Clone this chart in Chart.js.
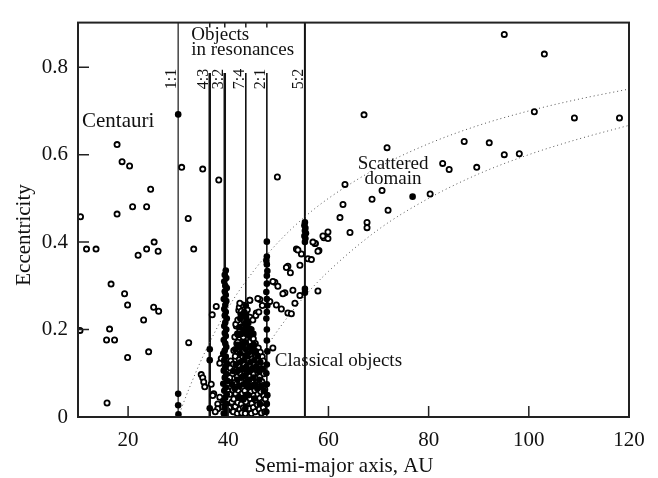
<!DOCTYPE html>
<html>
<head>
<meta charset="utf-8">
<script src="https://cdn.jsdelivr.net/npm/chart.js@4.4.0/dist/chart.umd.min.js"></script>
<style>
  html, body { margin: 0; padding: 0; background: #fff; }
  #chart { display: block; }
</style>
</head>
<body>
<canvas id="chart" width="658" height="478"></canvas>
<script>
// values: [semi-major axis (AU), eccentricity]
var centaurs = [
    [10.5, 0.458], [10.4, 0.198], [11.7, 0.384], [13.6, 0.384], [15.7, 0.176], [15.8, 0.032],
    [16.3, 0.201], [16.6, 0.304], [17.3, 0.176], [17.8, 0.623], [17.8, 0.464], [18.8, 0.584],
    [19.3, 0.282], [19.9, 0.256], [19.9, 0.136], [20.3, 0.574], [20.9, 0.481], [22.0, 0.370],
    [23.1, 0.222], [23.7, 0.481], [23.7, 0.384], [24.1, 0.149], [24.5, 0.521], [25.1, 0.251],
    [25.2, 0.400], [26.0, 0.379], [26.1, 0.242]
];

var innerObjects = [
    [30.7, 0.571], [32.0, 0.454], [32.1, 0.170], [33.1, 0.384], [34.9, 0.567], [38.1, 0.542],
    [34.6, 0.097], [34.9, 0.090], [35.1, 0.080], [35.3, 0.069], [36.6, 0.075], [37.1, 0.053],
    [37.9, 0.030], [38.3, 0.045], [36.9, 0.049], [37.9, 0.019], [38.9, 0.023], [37.6, 0.253],
    [36.8, 0.234], [38.6, 0.134], [38.3, 0.123], [37.4, 0.012]
];

var classical = [
    [40.2, 0.021], [40.3, 0.052], [40.1, 0.083], [40.4, 0.112], [40.7, 0.034], [40.6, 0.068], [40.8, 0.097], [40.5, 0.128],
    [41.0, 0.012], [41.1, 0.041], [40.9, 0.062], [41.2, 0.088], [41.0, 0.121], [41.1, 0.152], [41.3, 0.183], [41.6, 0.208],
    [41.4, 0.024], [41.5, 0.053], [41.3, 0.079], [41.6, 0.108], [41.4, 0.139], [41.7, 0.168], [41.5, 0.212],
    [41.8, 0.008], [41.9, 0.033], [42.0, 0.061], [41.8, 0.092], [42.1, 0.118], [41.9, 0.149], [42.0, 0.188], [41.9, 0.222], [42.1, 0.244],
    [42.3, 0.018], [42.2, 0.044], [42.4, 0.072], [42.3, 0.101], [42.2, 0.131], [42.4, 0.162], [42.3, 0.198], [42.5, 0.236], [42.2, 0.251],
    [42.7, 0.009], [42.6, 0.029], [42.8, 0.054], [42.6, 0.081], [42.7, 0.109], [42.9, 0.138], [42.7, 0.171], [42.8, 0.207], [42.6, 0.242],
    [43.0, 0.021], [43.1, 0.043], [42.9, 0.066], [43.1, 0.094], [43.0, 0.122], [43.2, 0.151], [43.0, 0.183], [43.1, 0.221], [42.9, 0.256],
    [43.8, 0.011], [43.9, 0.032], [43.7, 0.055], [43.9, 0.078], [43.8, 0.102], [44.0, 0.129], [43.8, 0.162], [43.9, 0.193], [43.7, 0.231],
    [44.2, 0.019], [44.3, 0.042], [44.1, 0.071], [44.3, 0.093], [44.2, 0.118], [44.4, 0.143], [44.2, 0.171], [44.3, 0.201], [44.3, 0.267],
    [44.6, 0.008], [44.7, 0.031], [44.5, 0.058], [44.7, 0.082], [44.6, 0.108], [44.8, 0.133], [44.6, 0.162], [44.7, 0.188],
    [45.0, 0.022], [45.1, 0.049], [44.9, 0.072], [45.1, 0.098], [45.0, 0.124], [45.2, 0.151], [45.0, 0.179],
    [45.4, 0.012], [45.5, 0.038], [45.3, 0.061], [45.5, 0.089], [45.4, 0.112], [45.6, 0.139], [45.4, 0.168],
    [45.8, 0.028], [45.9, 0.052], [45.7, 0.079], [45.9, 0.101], [45.8, 0.128], [46.0, 0.158], [45.9, 0.271],
    [46.2, 0.018], [46.3, 0.043], [46.1, 0.068], [46.3, 0.092], [46.2, 0.121], [46.4, 0.148],
    [46.6, 0.009], [46.7, 0.033], [46.5, 0.058], [46.7, 0.081], [46.6, 0.109], [46.8, 0.138],
    [47.0, 0.021], [47.1, 0.048], [46.9, 0.072], [47.1, 0.099], [47.0, 0.128],
    [47.3, 0.012], [47.4, 0.041], [47.3, 0.063], [43.4, 0.008], [43.5, 0.035], [43.3, 0.060],
    [40.3, 0.090], [42.3, 0.260], [43.8, 0.245], [44.3, 0.228], [44.9, 0.222], [45.5, 0.232],
    [46.1, 0.240], [46.8, 0.255], [44.3, 0.267], [41.9, 0.171]
];

// the packed core of the classical belt, where the marks merge into black
var classicalCore = [
    [40.8, 0.075], [41.3, 0.065], [41.8, 0.085], [42.2, 0.070], [42.6, 0.090], [43.0, 0.075], [43.4, 0.095], [43.8, 0.070],
    [44.2, 0.085], [44.6, 0.070], [45.0, 0.090], [45.4, 0.075], [45.8, 0.065], [46.2, 0.085], [46.6, 0.070], [47.1, 0.060],
    [41.0, 0.105], [41.5, 0.120], [41.9, 0.105], [42.4, 0.125], [42.8, 0.110], [43.2, 0.130], [43.6, 0.115], [44.0, 0.105],
    [44.4, 0.125], [44.8, 0.110], [45.2, 0.130], [45.6, 0.115], [46.0, 0.105], [46.4, 0.125], [46.9, 0.110],
    [41.4, 0.155], [41.9, 0.165], [42.3, 0.145], [42.7, 0.160], [43.1, 0.170], [43.5, 0.155], [43.9, 0.145], [44.3, 0.160],
    [44.7, 0.150], [45.1, 0.165], [45.5, 0.150], [45.9, 0.140],
    [41.8, 0.190], [42.2, 0.205], [42.6, 0.190], [43.0, 0.200], [43.4, 0.215], [43.8, 0.200], [44.2, 0.185], [44.6, 0.200],
    [45.0, 0.190], [42.4, 0.225], [42.8, 0.235], [43.2, 0.240], [43.6, 0.225], [44.0, 0.215],
    [42.0, 0.045], [43.0, 0.040], [44.0, 0.050], [45.2, 0.042], [46.3, 0.030]
];

var scattered = [
    [95.1, 0.875], [103.1, 0.830], [67.1, 0.691], [101.1, 0.698], [109.1, 0.684], [118.1, 0.684],
    [71.7, 0.616], [87.1, 0.630], [92.1, 0.627], [95.1, 0.600], [98.1, 0.602], [82.8, 0.580],
    [84.1, 0.566], [89.6, 0.571], [63.3, 0.532], [70.7, 0.518], [68.7, 0.498], [62.9, 0.486],
    [80.3, 0.510], [71.9, 0.473], [62.3, 0.456], [67.7, 0.445], [67.7, 0.433], [64.3, 0.422],
    [49.8, 0.549], [53.6, 0.384], [57.4, 0.397], [58.1, 0.381], [59.1, 0.410], [59.9, 0.423],
    [58.9, 0.414], [59.9, 0.408], [57.3, 0.397], [57.9, 0.379], [54.6, 0.373], [55.9, 0.362],
    [54.3, 0.347], [51.9, 0.345], [52.4, 0.330], [49.3, 0.308], [49.9, 0.299], [51.3, 0.284],
    [52.9, 0.290], [54.3, 0.278], [57.9, 0.288], [53.3, 0.260], [46.3, 0.269], [48.3, 0.264],
    [49.6, 0.256], [50.6, 0.247], [51.9, 0.238], [52.6, 0.236], [45.6, 0.238], [48.9, 0.158],
    [53.9, 0.382], [56.6, 0.360], [56.9, 0.400], [51.6, 0.342], [50.9, 0.282], [48.9, 0.310]
];

var resonant = [
    [30.0, 0.692], [30.0, 0.053], [30.0, 0.027], [30.05, 0.006],
    [36.3, 0.155], [36.3, 0.130], [36.3, 0.020],
    [39.5, 0.335], [39.3, 0.325], [39.6, 0.318], [39.2, 0.310], [39.4, 0.300], [39.7, 0.295],
    [39.3, 0.287], [39.5, 0.279], [39.1, 0.270], [39.6, 0.265], [39.4, 0.256], [39.2, 0.247],
    [39.5, 0.240], [39.3, 0.232], [39.7, 0.225], [39.4, 0.216], [39.2, 0.208], [39.6, 0.200],
    [39.3, 0.192], [39.5, 0.185], [39.1, 0.176], [39.4, 0.168], [39.6, 0.160], [39.3, 0.152],
    [39.0, 0.145], [39.5, 0.138], [39.2, 0.130], [39.7, 0.122], [39.4, 0.114], [39.1, 0.106],
    [39.6, 0.099], [39.3, 0.090], [39.8, 0.083], [39.0, 0.076], [39.5, 0.068], [39.2, 0.060],
    [39.7, 0.052], [39.4, 0.044], [39.0, 0.037], [39.6, 0.030], [39.3, 0.022], [39.8, 0.015],
    [39.1, 0.008], [39.5, 0.003],
    [43.5, 0.255], [43.5, 0.230], [43.4, 0.210], [43.6, 0.190], [43.5, 0.170], [43.4, 0.140],
    [43.5, 0.110], [43.6, 0.080], [43.5, 0.050], [43.4, 0.020],
    [47.7, 0.401], [47.7, 0.367], [47.6, 0.358], [47.7, 0.349], [47.8, 0.334], [47.7, 0.323],
    [47.7, 0.305], [47.6, 0.286], [47.7, 0.270], [47.8, 0.255], [47.7, 0.240], [47.6, 0.225],
    [47.7, 0.200], [47.7, 0.175], [47.8, 0.150], [47.7, 0.120], [47.6, 0.100], [47.7, 0.075],
    [47.8, 0.050], [47.7, 0.030], [47.6, 0.012],
    [55.3, 0.445], [55.2, 0.438], [55.4, 0.432], [55.3, 0.426], [55.5, 0.420], [55.2, 0.414],
    [55.4, 0.408], [55.3, 0.400], [55.3, 0.293], [55.3, 0.284],
    [76.8, 0.504]
];

// edges of the scattered domain (dotted curves)
var innerEdge = [[30, 0], [32, 0.06], [35, 0.14], [40, 0.25], [45, 0.333], [50, 0.40], [55, 0.455],
    [60, 0.50], [70, 0.571], [80, 0.625], [90, 0.667], [100, 0.70], [110, 0.727], [120, 0.75]];
var outerEdge = [[46.5, 0.14], [50, 0.20], [55, 0.273], [60, 0.333], [70, 0.429], [80, 0.50],
    [90, 0.556], [100, 0.60], [110, 0.636], [120, 0.667]];

// mean-motion resonances with Neptune
var resLabels = ['1:1', '4:3', '3:2', '7:4', '2:1', '5:2'];
var resA = [30.0, 36.3, 39.3, 43.5, 47.7, 55.3];
var resTop = [0.902, 0.787, 0.787, 0.787, 0.787, 0.902];
var resLineWidth = [1.5, 2.5, 2.5, 1.6, 1.6, 2];

var xTicks = [20, 40, 60, 80, 100, 120];
var yTicks = [0, 0.2, 0.4, 0.6, 0.8];

var serif = 'Liberation Serif';

function toPoints(list) {
    return list.map(function(p) { return { x: p[0], y: p[1] }; });
}

var openStyle = {
    pointRadius: 2.6,
    pointBorderWidth: 1.8,
    pointBackgroundColor: '#fff',
    pointBorderColor: '#000',
    showLine: false,
    order: 0
};

var filledStyle = {
    pointRadius: 3.3,
    pointBorderWidth: 0,
    pointBackgroundColor: '#000',
    showLine: false,
    order: 0
};

// first dataset in the list is painted last (on top)
var datasets = [];
datasets.push(Object.assign({ data: toPoints(resonant) }, filledStyle));
datasets.push(Object.assign({ data: toPoints(classicalCore) }, filledStyle));
[centaurs, innerObjects, classical, scattered].forEach(function(list) {
    datasets.push(Object.assign({ data: toPoints(list) }, openStyle));
});
[innerEdge, outerEdge].forEach(function(list) {
    datasets.push({
        data: toPoints(list),
        showLine: true,
        pointRadius: 0,
        borderColor: '#555',
        borderWidth: 1,
        borderDash: [1, 3],
        cubicInterpolationMode: 'monotone',
        order: 1
    });
});
resA.forEach(function(a, i) {
    datasets.push({
        data: [{ x: a, y: 0 }, { x: a, y: resTop[i] }],
        showLine: true,
        pointRadius: 0,
        borderColor: i === 0 ? '#444' : '#111',
        borderWidth: resLineWidth[i],
        order: 2
    });
});

var decorations = {
    id: 'decorations',
    afterDraw: function(chart) {
        var ctx = chart.ctx;
        var area = chart.chartArea;
        var xs = chart.scales.x;
        var ys = chart.scales.y;
        ctx.save();

        // frame
        ctx.strokeStyle = '#222';
        ctx.lineWidth = 2;
        ctx.strokeRect(area.left, area.top, area.right - area.left, area.bottom - area.top);

        // ticks pointing inwards
        ctx.lineWidth = 1.5;
        ctx.beginPath();
        xTicks.forEach(function(v) {
            var px = xs.getPixelForValue(v);
            ctx.moveTo(px, area.bottom);
            ctx.lineTo(px, area.bottom - 11);
        });
        yTicks.forEach(function(v) {
            var py = ys.getPixelForValue(v);
            ctx.moveTo(area.left, py);
            ctx.lineTo(area.left + 11, py);
        });
        resA.forEach(function(a, i) {
            if (resTop[i] < ys.max) {
                var px = xs.getPixelForValue(a);
                ctx.moveTo(px, area.top);
                ctx.lineTo(px, area.top + 5);
            }
        });
        ctx.stroke();

        ctx.fillStyle = '#111';

        // resonance labels, rotated
        ctx.font = '16px "' + serif + '"';
        ctx.textAlign = 'center';
        ctx.textBaseline = 'alphabetic';
        resLabels.forEach(function(lbl, i) {
            ctx.save();
            ctx.translate(xs.getPixelForValue(resA[i]) - 2, ys.getPixelForValue(0.773));
            ctx.rotate(-Math.PI / 2);
            ctx.fillText(lbl, 0, 0);
            ctx.restore();
        });

        // region notes
        ctx.font = '19px "' + serif + '"';
        ctx.textAlign = 'left';
        ctx.fillText('Objects', xs.getPixelForValue(32.6), ys.getPixelForValue(0.862));
        ctx.fillText('in resonances', xs.getPixelForValue(32.6), ys.getPixelForValue(0.828));
        ctx.fillText('Classical objects', xs.getPixelForValue(49.3), ys.getPixelForValue(0.116));
        ctx.textAlign = 'center';
        ctx.fillText('Scattered', xs.getPixelForValue(72.9), ys.getPixelForValue(0.567));
        ctx.fillText('domain', xs.getPixelForValue(72.9), ys.getPixelForValue(0.534));
        ctx.font = '21px "' + serif + '"';
        ctx.textAlign = 'left';
        ctx.fillText('Centauri', xs.getPixelForValue(10.8), ys.getPixelForValue(0.664));

        // axis titles
        ctx.textAlign = 'center';
        ctx.fillText('Semi-major axis, AU', 344, 472);
        ctx.save();
        ctx.translate(30, 235);
        ctx.rotate(-Math.PI / 2);
        ctx.fillText('Eccentricity', 0, 0);
        ctx.restore();

        ctx.restore();
    }
};

new Chart(document.getElementById('chart'), {
    type: 'scatter',
    data: { datasets: datasets },
    options: {
        responsive: false,
        animation: false,
        layout: { padding: { top: 11, right: 29, bottom: 0, left: 0 } },
        plugins: {
            legend: { display: false },
            tooltip: { enabled: false }
        },
        scales: {
            x: {
                type: 'linear',
                min: 10,
                max: 120,
                grid: { display: false, drawTicks: false },
                border: { display: false },
                afterFit: function(s) { s.height = 61; },
                afterBuildTicks: function(s) { s.ticks = xTicks.map(function(v) { return { value: v }; }); },
                ticks: { font: { family: serif, size: 21 }, color: '#111', padding: 11, maxRotation: 0, autoSkip: false }
            },
            y: {
                type: 'linear',
                min: 0,
                max: 0.902,
                grid: { display: false, drawTicks: false },
                border: { display: false },
                afterFit: function(s) { s.width = 78; },
                afterBuildTicks: function(s) { s.ticks = yTicks.map(function(v) { return { value: v }; }); },
                ticks: { font: { family: serif, size: 21 }, color: '#111', padding: 10, autoSkip: false }
            }
        }
    },
    plugins: [decorations]
});
</script>
</body>
</html>
